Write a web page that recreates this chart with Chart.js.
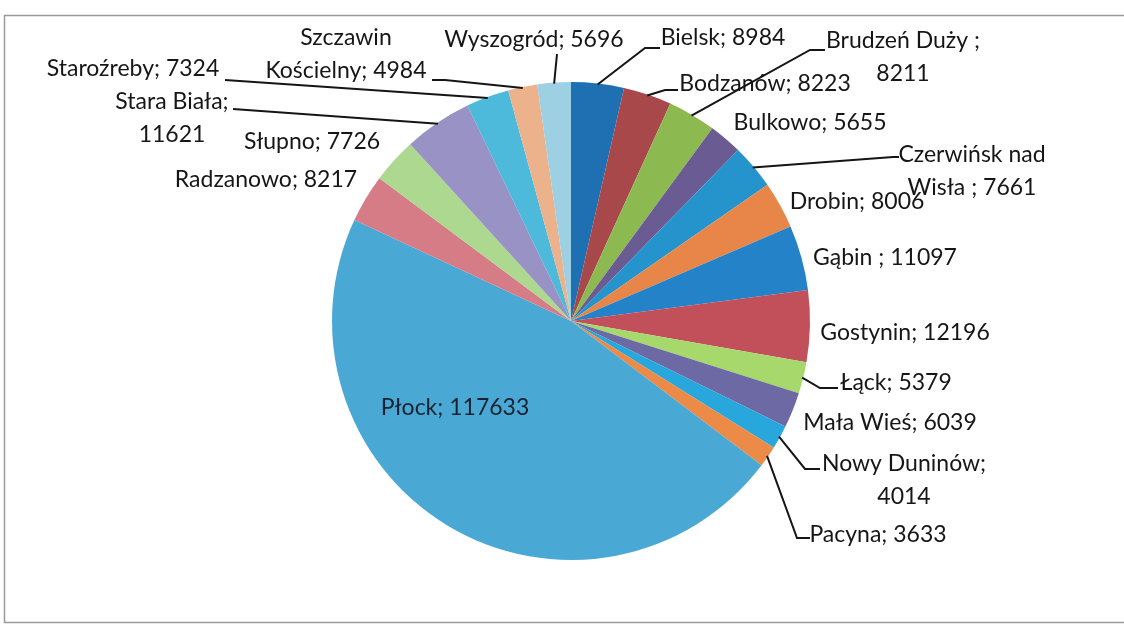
<!DOCTYPE html>
<html>
<head>
<meta charset="utf-8">
<script src="https://cdn.jsdelivr.net/npm/chart.js@4.4.1/dist/chart.umd.min.js"></script>
<style>
  html, body { margin: 0; padding: 0; background: #ffffff; }
  #wrap { width: 1124px; height: 631px; position: relative; }
</style>
</head>
<body>
<div id="wrap"><canvas id="c" width="1124" height="631"></canvas></div>
<script>
// ---- data ----
const categories = ["Bielsk", "Bodzanów", "Brudzeń Duży ", "Bulkowo", "Czerwińsk nad Wisła ", "Drobin", "Gąbin ", "Gostynin", "Łąck", "Mała Wieś", "Nowy Duninów", "Pacyna", "Płock", "Radzanowo", "Słupno", "Stara Biała", "Staroźreby", "Szczawin Kościelny", "Wyszogród"];
const populationValues = [8984, 8223, 8211, 5655, 7661, 8006, 11097, 12196, 5379, 6039, 4014, 3633, 117633, 8217, 7726, 11621, 7324, 4984, 5696];

// ---- styles ----
const sliceColors = ["#1F6FB3", "#A8484B", "#8DBA50", "#6A5B93", "#2593CC", "#E8864A", "#2382C8", "#C1505A", "#A6D86C", "#6D69A5", "#27A7DB", "#EC8A48", "#4AA9D4", "#D67C86", "#ADD890", "#9893C4", "#4DB9DB", "#EBB28C", "#9DD0E3"];

// label layout: cx = center x; y = first line middle y
// leader: elbow points from the slice edge to the label
const labelLayout = [
  { cx: 723, y: 38, leader: [[645, 48], [660, 48]] },                      // Bielsk
  { cx: 765, y: 84, leader: [[665, 90], [678, 90]] },                      // Bodzanów
  { cx: 903, y: 41, split: "Duży ;", leader: [[810, 50], [825, 50]] },     // Brudzeń Duży
  { cx: 810, y: 123 },                                                     // Bulkowo
  { cx: 972, y: 155, split: "nad", leader: [[893, 157], [899, 157]] },     // Czerwińsk
  { cx: 857, y: 202 },                                                     // Drobin
  { cx: 885, y: 258 },                                                     // Gąbin
  { cx: 905, y: 333 },                                                     // Gostynin
  { cx: 896, y: 383, leader: [[820, 388], [838, 388]] },                   // Łąck
  { cx: 890, y: 423 },                                                     // Mała Wieś
  { cx: 904, y: 464, split: "Duninów;", leader: [[805, 469], [820, 469]] },// Nowy Duninów
  { cx: 878, y: 535, leader: [[797, 538], [810, 538]] },                   // Pacyna
  { cx: 455, y: 408, inside: true },                                       // Płock
  { cx: 266, y: 180 },                                                     // Radzanowo
  { cx: 312, y: 142 },                                                     // Słupno
  { cx: 172, y: 102, split: "Biała;", leader: [[233, 109]] },              // Stara Biała
  { cx: 133, y: 69, leader: [[225, 80]] },                                 // Staroźreby
  { cx: 346, y: 38, split: "Szczawin", leader: [[445, 80], [432, 80]] },   // Szczawin
  { cx: 534, y: 40, leader: [[557, 54]] }                                  // Wyszogród
];

const FONT = '23px Lato';

function labelLines(i) {
  const name = categories[i];
  const val = populationValues[i];
  const lay = labelLayout[i];
  const full = name + "; " + val;
  if (!lay.split) return [full];
  const idx = full.indexOf(lay.split) + lay.split.length;
  return [full.slice(0, idx).trim(), full.slice(idx).trim()];
}

const framePlugin = {
  id: 'frame',
  beforeDraw(chart) {
    const ctx = chart.ctx;
    ctx.save();
    ctx.fillStyle = '#ffffff';
    ctx.fillRect(0, 0, chart.width, chart.height);
    ctx.strokeStyle = '#9a9a9a';
    ctx.lineWidth = 1.5;
    ctx.beginPath();
    ctx.moveTo(1124, 15.5);
    ctx.lineTo(4.5, 15.5);
    ctx.lineTo(4.5, 622.5);
    ctx.lineTo(1124, 622.5);
    ctx.stroke();
    ctx.restore();
  }
};

const labelPlugin = {
  id: 'pieLabels',
  afterDraw(chart) {
    const ctx = chart.ctx;
    const arcs = chart.getDatasetMeta(0).data;
    ctx.save();
    ctx.font = FONT;
    ctx.textAlign = 'center';
    ctx.textBaseline = 'middle';
    arcs.forEach((arc, i) => {
      const lay = labelLayout[i];
      const p = arc.getProps(['x', 'y', 'startAngle', 'endAngle', 'outerRadius'], true);
      if (lay.leader) {
        const a = (p.startAngle + p.endAngle) / 2;
        const ax = p.x + Math.cos(a) * (p.outerRadius - 1);
        const ay = p.y + Math.sin(a) * (p.outerRadius - 1);
        ctx.strokeStyle = '#151515';
        ctx.lineWidth = 2;
        ctx.beginPath();
        ctx.moveTo(ax, ay);
        lay.leader.forEach(pt => ctx.lineTo(pt[0], pt[1]));
        ctx.stroke();
      }
      ctx.fillStyle = lay.inside ? '#1a2232' : '#161616';
      const lines = labelLines(i);
      lines.forEach((t, k) => ctx.fillText(t, lay.cx, lay.y + k * 33));
    });
    ctx.restore();
  }
};

new Chart(document.getElementById('c'), {
  type: 'pie',
  data: {
    labels: categories,
    datasets: [{
      data: populationValues,
      backgroundColor: sliceColors,
      borderWidth: 0
    }]
  },
  options: {
    responsive: false,
    animation: false,
    layout: { padding: { top: 82, bottom: 71, left: 332, right: 314 } },
    plugins: { legend: { display: false }, tooltip: { enabled: false } }
  },
  plugins: [framePlugin, labelPlugin]
});
</script>
</body>
</html>
